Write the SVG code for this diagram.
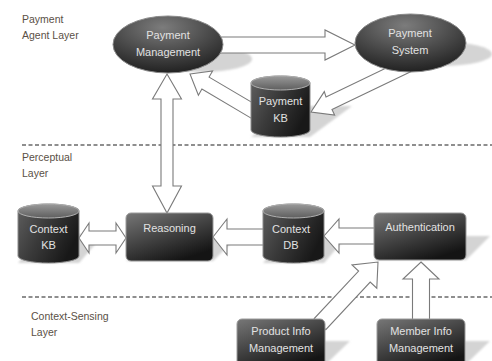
<svg xmlns="http://www.w3.org/2000/svg" width="492" height="361" viewBox="0 0 492 361">
<defs>
<linearGradient id="gBox" x1="0" y1="0" x2="0.6" y2="1">
<stop offset="0" stop-color="#777777"/>
<stop offset="1" stop-color="#141414"/>
</linearGradient>
<radialGradient id="gEll" cx="0.45" cy="0.2" r="0.85">
<stop offset="0" stop-color="#7c7c7c"/>
<stop offset="1" stop-color="#1c1c1c"/>
</radialGradient>
<linearGradient id="gCyl" x1="0" y1="0" x2="1" y2="0.5">
<stop offset="0" stop-color="#606060"/>
<stop offset="0.5" stop-color="#3a3a3a"/>
<stop offset="1" stop-color="#181818"/>
</linearGradient>
<linearGradient id="gTop" x1="0" y1="0" x2="0" y2="1">
<stop offset="0" stop-color="#9a9a9a"/>
<stop offset="1" stop-color="#5e5e5e"/>
</linearGradient>
<filter id="blur" x="-20%" y="-20%" width="140%" height="140%"><feGaussianBlur stdDeviation="1.2"/></filter>
<style>
.node{fill:url(#gBox);stroke:#9a9a9a;stroke-width:1}
.ell{fill:url(#gEll);stroke:#8a8a8a;stroke-width:1}
.cyl{fill:url(#gCyl);stroke:#8a8a8a;stroke-width:1}
.cyltop{fill:url(#gTop);stroke:#b0b0b0;stroke-width:1}
.shadow{fill:#d4d4d4;filter:url(#blur)}
.arrow{fill:#ffffff;stroke:#7a7a7a;stroke-width:1.1;stroke-linejoin:miter}
.lbl{font-family:"Liberation Sans",Arial,sans-serif;font-size:11px;fill:#e2e2e2;text-anchor:middle}
.layer{font-family:"Liberation Sans",Arial,sans-serif;font-size:10.5px;fill:#5a5046}
.dash{stroke:#6a6a6a;stroke-width:1.3;stroke-dasharray:4 2.5;fill:none}
</style>
</defs>
<rect width="492" height="361" fill="#ffffff"/>

<g id="layers">
<text class="layer" x="22" y="23">Payment</text>
<text class="layer" x="22" y="39">Agent Layer</text>
<line class="dash" x1="22" y1="145" x2="492" y2="145"/>
<text class="layer" x="22" y="161">Perceptual</text>
<text class="layer" x="22" y="177">Layer</text>
<line class="dash" x1="22" y1="297" x2="492" y2="297"/>
<text class="layer" x="31" y="320">Context-Sensing</text>
<text class="layer" x="31" y="336">Layer</text>
</g>

<g id="shadows">
<ellipse class="shadow" cx="202" cy="59" rx="50" ry="13"/>
<ellipse class="shadow" cx="442" cy="54" rx="50" ry="12"/>
<polygon class="shadow" points="251,137 310,137 352,106 293,106"/>
<polygon class="shadow" points="18,263 79,263 104,234 43,234"/>
<polygon class="shadow" points="263,263 324,263 349,234 288,234"/>
<polygon class="shadow" points="126,261 213,261 237,237 150,237"/>
<polygon class="shadow" points="374,260 466,260 490,236 398,236"/>
<polygon class="shadow" points="237,365 325,365 350,341 262,341"/>
<polygon class="shadow" points="377,365 465,365 490,341 402,341"/>
</g>

<g id="connectors">
<polygon class="arrow" points="218,37 325,37 325,30 355,45 325,60 325,53 218,53"/>
<polygon class="arrow" points="311,112 324.3,91.6 326,97 390.8,65.8 414.8,69.7 332,109.6 334.6,115"/>
<polygon class="arrow" points="190,74 212.6,71 209.1,77.1 260.8,107.6 253.6,119.6 201.9,89.1 198.4,95.2"/>
<polygon class="arrow" points="167,74 181.5,99 173,99 173,186 181.5,186 167,213 152.5,186 161,186 161,99 152.5,99"/>
<polygon class="arrow" points="79,238 89,223 89,231 116,231 116,223 126,238 116,253 116,245 89,245 89,253"/>
<polygon class="arrow" points="213,237 227,219 227,229 268,229 268,245 227,245 227,255"/>
<polygon class="arrow" points="324,236 339,219 339,228 378,228 378,244 339,244 339,253"/>
<polygon class="arrow" points="378,262 376.8,288.2 370.2,282.1 325.8,329.6 314.2,318.6 358.6,271.1 352,265"/>
<polygon class="arrow" points="421,262 439,279 429.5,279 429.5,325 412.5,325 412.5,279 403,279"/>
</g>

<g id="payment-management">
<ellipse class="ell" cx="168" cy="44.5" rx="55" ry="28.5"/>
<text class="lbl" x="168" y="39">Payment</text>
<text class="lbl" x="168" y="56">Management</text>
</g>

<g id="payment-system">
<ellipse class="ell" cx="410.5" cy="43" rx="55.5" ry="29"/>
<text class="lbl" x="410" y="37">Payment</text>
<text class="lbl" x="410" y="54">System</text>
</g>

<g id="payment-kb">
<path class="cyl" d="M251,83 A29.5,7 0 0 1 310,83 V130 A29.5,7 0 0 1 251,130 Z"/>
<ellipse class="cyltop" cx="280.5" cy="83" rx="29.5" ry="7"/>
<text class="lbl" x="280.5" y="105">Payment</text>
<text class="lbl" x="280.5" y="122">KB</text>
</g>

<g id="context-kb">
<path class="cyl" d="M18,211 A30.5,7 0 0 1 79,211 V256 A30.5,7 0 0 1 18,256 Z"/>
<ellipse class="cyltop" cx="48.5" cy="211" rx="30.5" ry="7"/>
<text class="lbl" x="48.5" y="233">Context</text>
<text class="lbl" x="48.5" y="249">KB</text>
</g>

<g id="reasoning">
<rect class="node" x="126" y="213" width="87" height="48" rx="5"/>
<text class="lbl" x="169.5" y="232">Reasoning</text>
</g>

<g id="context-db">
<path class="cyl" d="M263,211 A30.5,7 0 0 1 324,211 V256 A30.5,7 0 0 1 263,256 Z"/>
<ellipse class="cyltop" cx="293.5" cy="211" rx="30.5" ry="7"/>
<text class="lbl" x="291" y="233">Context</text>
<text class="lbl" x="291" y="249">DB</text>
</g>

<g id="authentication">
<rect class="node" x="374" y="213" width="92" height="47" rx="5"/>
<text class="lbl" x="420" y="231">Authentication</text>
</g>

<g id="product-info-management">
<rect class="node" x="237" y="319" width="88" height="48" rx="5"/>
<text class="lbl" x="281" y="335">Product Info</text>
<text class="lbl" x="281" y="352">Management</text>
</g>

<g id="member-info-management">
<rect class="node" x="377" y="319" width="88" height="48" rx="5"/>
<text class="lbl" x="421" y="335">Member Info</text>
<text class="lbl" x="421" y="352">Management</text>
</g>
</svg>
